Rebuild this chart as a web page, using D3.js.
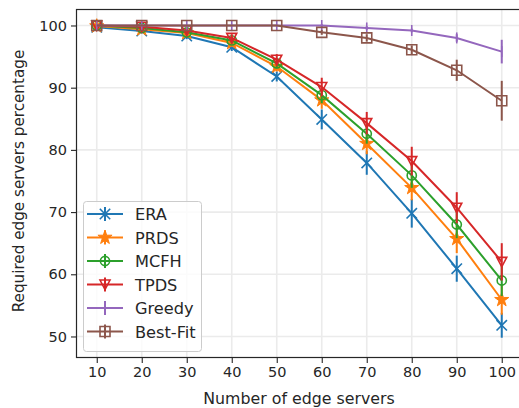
<!DOCTYPE html>
<html><head><meta charset="utf-8">
<script src="https://cdn.jsdelivr.net/npm/d3@7"></script>
<style>body{margin:0;background:#fff}svg{display:block}text{font-family:"DejaVu Sans",sans-serif;fill:#262626}</style>
</head><body><svg id="c" width="519" height="408"></svg>
<script>
const xValues = [10,20,30,40,50,60,70,80,90,100];
const xTickLabels = ["10","20","30","40","50","60","70","80","90","100"];
const yTickValues = [50,60,70,80,90,100];
const seriesNames = ["ERA","PRDS","MCFH","TPDS","Greedy","Best-Fit"];
const seriesColors = ["#1f77b4","#ff7f0e","#2ca02c","#d62728","#9467bd","#8c564b"];
const seriesMarkers = ["x","star","circle","triangleDown","vline","square"];
const eraValues    = [99.7,99.1,98.3,96.5,91.8,84.9,77.9,69.8,60.9,51.8];
const prdsValues   = [99.9,99.4,98.8,97.2,93.4,88.0,81.0,73.9,65.7,55.9];
const mcfhValues   = [100,99.6,98.9,97.6,93.9,88.8,82.6,75.9,68.0,59.0];
const tpdsValues   = [100,99.8,99.2,98.0,94.5,90.1,84.3,78.2,70.7,62.0];
const greedyValues = [100,100,100,100,100,100,99.6,99.2,98.0,95.8];
const bestFitValues= [100,100,100,100,100,98.9,98.0,96.1,92.8,87.9];
const eraErr    = [0.3,0.4,0.5,0.6,0.8,1.6,1.9,2.3,2.1,2.0];
const prdsErr   = [0.2,0.3,0.4,0.6,0.8,1.4,1.7,2.0,2.3,2.4];
const mcfhErr   = [0.2,0.3,0.4,0.5,0.8,1.3,1.6,2.0,2.2,2.5];
const tpdsErr   = [0.2,0.3,0.4,0.6,0.9,1.5,1.8,2.3,2.5,3.0];
const greedyErr = [0,0,0,0,0,0.2,0.3,0.3,0.6,1.9];
const bestFitErr= [0,0,0,0,0,0.4,0.6,0.7,1.7,3.2];

const allValues=[eraValues,prdsValues,mcfhValues,tpdsValues,greedyValues,bestFitValues];
const allErr=[eraErr,prdsErr,mcfhErr,tpdsErr,greedyErr,bestFitErr];

const svg=d3.select("#c");
const L=76.5,T=9.5,B=357.5,R=522;
const x=d3.scaleLinear().domain([5.5,104.5]).range([L,R]);
const y=d3.scaleLinear().domain([46.62,102.57]).range([B,T]);

// grid
const g=svg.append("g");
g.selectAll(".gx").data(xValues).enter().append("line")
 .attr("x1",d=>x(d)).attr("x2",d=>x(d)).attr("y1",T).attr("y2",B)
 .attr("stroke","#ebebeb").attr("stroke-width",1.6);
g.selectAll(".gy").data(yTickValues).enter().append("line")
 .attr("y1",d=>y(d)).attr("y2",d=>y(d)).attr("x1",L).attr("x2",R)
 .attr("stroke","#ebebeb").attr("stroke-width",1.6);

// series
function markerPath(type){
  const s=5.2;
  switch(type){
    case "x": return `M${-s},${-s}L${s},${s}M${-s},${s}L${s},${-s}`;
    case "star": return d3.symbol(d3.symbolStar,62)();
    case "circle": return d3.symbol(d3.symbolCircle,Math.PI*4.6*4.6)();
    case "triangleDown": return `M${-5},${-4.5}L${5},${-4.5}L0,${5}Z`;
    case "vline": return `M0,${-5.5}L0,${5.5}`;
    case "square": return `M-5,-5H5V5H-5Z`;
  }
}
const line=d3.line().x((d,i)=>x(xValues[i])).y(d=>y(d));
allValues.forEach((vals,si)=>{
  const c=seriesColors[si];
  const sg=svg.append("g");
  sg.append("path").attr("d",line(vals)).attr("fill","none").attr("stroke",c).attr("stroke-width",2);
  sg.selectAll(".eb").data(vals).enter().append("line")
    .attr("x1",(d,i)=>x(xValues[i])).attr("x2",(d,i)=>x(xValues[i]))
    .attr("y1",(d,i)=>y(d-allErr[si][i])).attr("y2",(d,i)=>y(d+allErr[si][i]))
    .attr("stroke",c).attr("stroke-width",2);
  const mt=seriesMarkers[si];
  const filled=(mt==="star");
  sg.selectAll(".mk").data(vals).enter().append("path")
    .attr("transform",(d,i)=>`translate(${x(xValues[i])},${y(d)})`)
    .attr("d",markerPath(mt))
    .attr("fill",filled?c:"none").attr("stroke",c).attr("stroke-width",filled?1:1.6);
});

// axes spines
svg.append("rect").attr("x",L).attr("y",T).attr("width",R-L).attr("height",B-T)
 .attr("fill","none").attr("stroke","#262626").attr("stroke-width",1.2);

const xa=svg.append("g").attr("transform",`translate(0,${B})`)
 .call(d3.axisBottom(x).tickValues(xValues).tickFormat((d,i)=>xTickLabels[i]).tickSize(5.5).tickPadding(4));
const ya=svg.append("g").attr("transform",`translate(${L},0)`)
 .call(d3.axisLeft(y).tickValues(yTickValues).tickSize(5.5).tickPadding(4));
[xa,ya].forEach(a=>{
  a.select(".domain").remove();
  a.selectAll(".tick line").attr("stroke","#262626").attr("stroke-width",1.1);
  a.selectAll(".tick text").style("font-size","14.5px").attr("fill","#262626").style("font-family","'DejaVu Sans',sans-serif");
});

svg.append("text").attr("x",299).attr("y",404).attr("text-anchor","middle")
 .style("font-size","15.8px").text("Number of edge servers");
svg.append("text").attr("transform",`translate(23.5,181) rotate(-90)`).attr("text-anchor","middle")
 .style("font-size","15.2px").text("Required edge servers percentage");

// legend
const lg=svg.append("g");
lg.append("rect").attr("x",83.5).attr("y",201.5).attr("width",118).attr("height",150).attr("rx",3)
 .attr("fill","#fff").attr("fill-opacity",0.8).attr("stroke","#cccccc");
seriesNames.forEach((n,i)=>{
  const yy=214+i*23.5, c=seriesColors[i];
  lg.append("line").attr("x1",87).attr("x2",123).attr("y1",yy).attr("y2",yy).attr("stroke",c).attr("stroke-width",2);
  lg.append("line").attr("x1",105).attr("x2",105).attr("y1",yy-7).attr("y2",yy+7).attr("stroke",c).attr("stroke-width",2);
  const mt=seriesMarkers[i], filled=(mt==="star");
  lg.append("path").attr("transform",`translate(105,${yy})`).attr("d",markerPath(mt))
    .attr("fill",filled?c:"none").attr("stroke",c).attr("stroke-width",filled?1:1.6);
  lg.append("text").attr("x",135).attr("y",yy+6).style("font-size","16.2px").text(n);
});
</script></body></html>
